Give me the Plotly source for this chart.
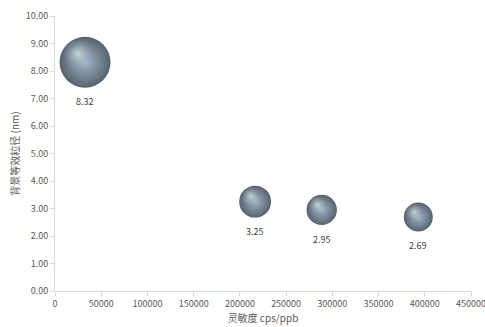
import plotly.graph_objects as go

sensitivity = [32500, 216500, 288500, 393000]
particle_size = [8.32, 3.25, 2.95, 2.69]
labels = ["8.32", "3.25", "2.95", "2.69"]
x_ticks = [0, 50000, 100000, 150000, 200000, 250000, 300000, 350000, 400000, 450000]
y_ticks = [0, 1, 2, 3, 4, 5, 6, 7, 8, 9, 10]

W, H = 485, 327
ML, MR, MT, MB = 55, 14, 16, 36
X_RANGE = [0, 450000]
Y_RANGE = [0, 10]
max_d = 51
sizeref = 2 * max(particle_size) / (max_d ** 2)

font_fam = "Noto Sans CJK SC, Noto Sans, sans-serif"

# rendered bubble diameters (px) and pixel -> data scale for the highlight offset
diam = [(2 * v / sizeref) ** 0.5 for v in particle_size]
px_x = (X_RANGE[1] - X_RANGE[0]) / (W - ML - MR)
px_y = (Y_RANGE[1] - Y_RANGE[0]) / (H - MT - MB)
hl_x = [x - 0.14 * d * px_x for x, d in zip(sensitivity, diam)]
hl_y = [y + 0.17 * d * px_y for y, d in zip(particle_size, diam)]

fig = go.Figure()
fig.add_trace(go.Scatter(
    x=sensitivity, y=particle_size, mode="markers",
    marker=dict(size=particle_size, sizemode="area", sizeref=sizeref,
                color="#56626f", opacity=1,
                gradient=dict(type="radial", color="#a2b4c6"),
                line=dict(width=0)),
    hoverinfo="skip", showlegend=False,
))
fig.add_trace(go.Scatter(
    x=hl_x, y=hl_y, mode="markers",
    marker=dict(size=[v * 0.36 for v in particle_size], sizemode="area", sizeref=sizeref,
                color="rgba(160,180,198,0)",
                gradient=dict(type="radial", color="rgba(220,246,228,1)"),
                line=dict(width=0)),
    hoverinfo="skip", showlegend=False,
))

for x, y, t, d in zip(sensitivity, particle_size, labels, diam):
    fig.add_annotation(x=x, y=y, text=t, showarrow=False, yshift=-(d / 2 + 14),
                       font=dict(size=9, color="#404040", family=font_fam))

axis_common = dict(
    showgrid=False, zeroline=False, showline=True, linecolor="#d9d9d9", linewidth=1,
    ticks="outside", ticklen=4, tickcolor="#d9d9d9", ticklabeloverflow="allow",
    automargin=False,
    tickfont=dict(size=9, color="#595959", family=font_fam),
)

fig.update_layout(
    width=W, height=H,
    margin=dict(l=ML, r=MR, t=MT, b=MB),
    paper_bgcolor="white", plot_bgcolor="white",
    xaxis=dict(range=X_RANGE, tickvals=x_ticks, ticktext=[str(v) for v in x_ticks],
               title=dict(text="灵敏度 cps/ppb", font=dict(size=10, color="#595959", family=font_fam), standoff=2),
               **axis_common),
    yaxis=dict(range=Y_RANGE, tickvals=y_ticks, ticktext=[f"{v:.2f}" for v in y_ticks],
               title=dict(text="背景等效粒径 (nm)", font=dict(size=10, color="#595959", family=font_fam), standoff=4),
               **axis_common),
)

fig.write_html("out.html")
